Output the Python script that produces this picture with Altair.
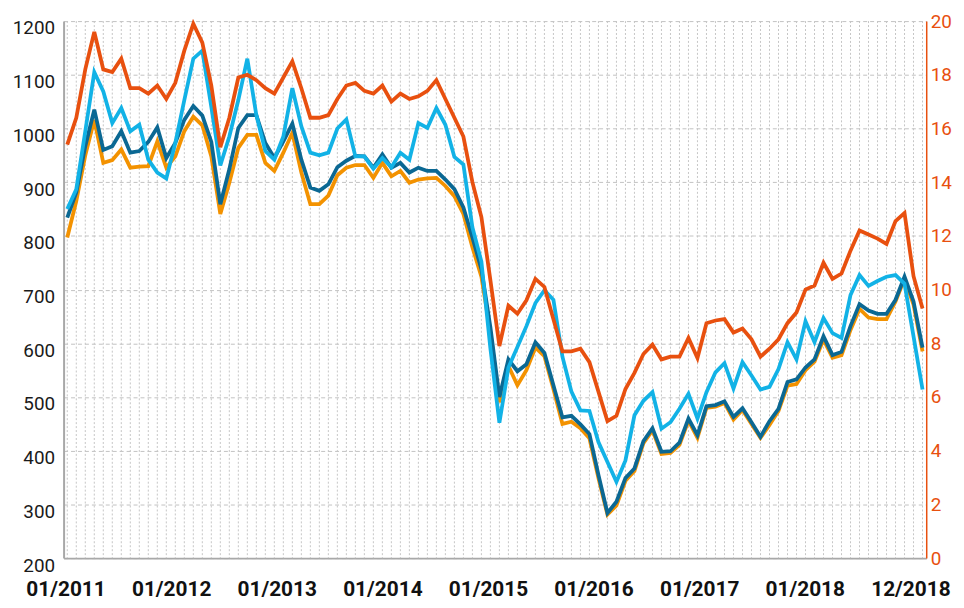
import altair as alt
import pandas as pd

# ---------------- data ----------------
years = list(range(2011, 2019))
months = [f"{m:02d}/{y}" for y in years for m in range(1, 13)]
tick_labels = ["01/2011", "01/2012", "01/2013", "01/2014", "01/2015",
               "01/2016", "01/2017", "01/2018", "12/2018"]

# left axis series
orange = [797, 865, 950, 1016, 936, 941, 961, 927, 929, 930, 976, 927,
          948, 995, 1022, 1006, 948, 841, 899, 964, 988, 988, 936, 921,
          955, 992, 918, 859, 859, 875, 913, 927, 932, 932, 908, 936,
          911, 921, 899, 905, 907, 908, 893, 874, 841, 779, 724, 620,
          490, 558, 522, 550, 592, 576, 515, 450, 454, 442, 423, 349,
          281, 298, 344, 362, 414, 438, 394, 396, 411, 456, 424, 480,
          482, 489, 458, 476, 450, 424, 448, 474, 521, 524, 550, 566,
          607, 573, 578, 625, 664, 648, 645, 645, 678, 720, 672, 585]

dark_blue = [834, 881, 967, 1035, 960, 967, 995, 955, 958, 975, 1002, 945,
             973, 1016, 1042, 1024, 975, 859, 924, 1001, 1025, 1025, 973, 945,
             976, 1009, 942, 890, 884, 896, 928, 940, 949, 948, 927, 952,
             927, 936, 918, 927, 921, 921, 905, 887, 853, 797, 738, 630,
             500, 570, 548, 561, 602, 582, 522, 462, 465, 449, 431, 355,
             284, 305, 349, 367, 418, 442, 398, 399, 415, 460, 429, 483,
             485, 492, 463, 479, 453, 426, 455, 478, 528, 533, 555, 570,
             613, 578, 584, 632, 673, 661, 655, 655, 681, 724, 678, 592]

light_blue = [850, 887, 995, 1105, 1069, 1010, 1038, 995, 1007, 942, 918, 907,
              973, 1053, 1130, 1145, 1040, 931, 985, 1053, 1130, 1025, 958, 942,
              985, 1075, 1004, 955, 950, 955, 1000, 1017, 948, 948, 925, 945,
              928, 955, 942, 1010, 1001, 1038, 1007, 947, 933, 816, 752, 590,
              452, 555, 593, 632, 675, 699, 681, 575, 510, 475, 474, 416,
              379, 342, 382, 466, 493, 509, 441, 453, 478, 506, 460, 509,
              546, 563, 516, 565, 540, 514, 519, 552, 602, 570, 641, 602,
              647, 619, 610, 690, 727, 707, 716, 724, 727, 711, 613, 514]

# right axis series
red = [15.4, 16.4, 18.2, 19.6, 18.2, 18.1, 18.6, 17.5, 17.5, 17.3, 17.6, 17.1,
       17.7, 18.9, 19.9, 19.2, 17.6, 15.3, 16.4, 17.9, 18.0, 17.8, 17.5, 17.3,
       17.9, 18.5, 17.5, 16.4, 16.4, 16.5, 17.1, 17.6, 17.7, 17.4, 17.3, 17.6,
       17.0, 17.3, 17.1, 17.2, 17.4, 17.8, 17.1, 16.4, 15.7, 14.0, 12.7, 10.35,
       7.9, 9.4, 9.1, 9.6, 10.4, 10.1, 8.9, 7.7, 7.7, 7.8, 7.3, 6.2,
       5.1, 5.3, 6.3, 6.9, 7.6, 7.95, 7.4, 7.5, 7.5, 8.2, 7.45, 8.75,
       8.85, 8.9, 8.4, 8.55, 8.15, 7.5, 7.8, 8.15, 8.75, 9.15, 10.0, 10.15,
       11.0, 10.4, 10.6, 11.45, 12.2, 12.05, 11.9, 11.7, 12.55, 12.85, 10.5, 9.3]

left_ticks = list(range(200, 1201, 100))
right_ticks = list(range(0, 21, 2))

# ---------------- styling ----------------
C_ORANGE = "#F39200"
C_DARK = "#0B6893"
C_LIGHT = "#12B2E6"
C_RED = "#E8500F"
AXIS_GREY = "#a8a8a8"
LW = 3.8

df = pd.DataFrame({
    "idx": list(range(len(months))),
    "month": months,
    "orange": orange,
    "dark_blue": dark_blue,
    "light_blue": light_blue,
    "red": red,
})

x_enc = alt.X("idx:Q", scale=alt.Scale(domain=[-0.41, len(months) - 0.59], nice=False, zero=False), axis=None)

y_left_scale = alt.Scale(domain=[200, 1200], nice=False, zero=False)
left_axis = alt.Axis(orient="left", values=left_ticks, format="d", title=None, grid=True,
                     gridColor="#c2c2c2", gridDash=[4, 3], gridWidth=1,
                     domainColor=AXIS_GREY, domainWidth=2, ticks=False,
                     labelFont="Roboto", labelFontSize=19, labelColor="#1a1a1a",
                     labelPadding=9, labelOffset=7)

base = alt.Chart(df)

vgrid = base.mark_rule(color="#c6c6c6", strokeDash=[2, 2], strokeWidth=1).encode(x=x_enc)


def left_line(col, color):
    return base.mark_line(color=color, strokeWidth=LW, strokeJoin="miter").encode(
        x=x_enc,
        y=alt.Y(f"{col}:Q", scale=y_left_scale, axis=left_axis),
    )


left_part = alt.layer(
    vgrid,
    left_line("orange", C_ORANGE),
    left_line("dark_blue", C_DARK),
    left_line("light_blue", C_LIGHT),
)

red_part = base.mark_line(color=C_RED, strokeWidth=LW, strokeJoin="miter").encode(
    x=x_enc,
    y=alt.Y("red:Q", scale=alt.Scale(domain=[0, 20], nice=False, zero=False),
            axis=alt.Axis(orient="right", values=right_ticks, format="d", title=None, grid=False,
                          domainColor=C_RED, domainWidth=1.5, ticks=False,
                          labelFont="Roboto", labelFontSize=19, labelColor=C_RED,
                          labelPadding=4)),
)

label_part = alt.Chart(pd.DataFrame({"lab": tick_labels})).mark_point(opacity=0).encode(
    x=alt.X("lab:N", sort=tick_labels,
            scale=alt.Scale(type="point", padding=0.084, align=0.11),
            axis=alt.Axis(orient="bottom", title=None, labelAngle=0, ticks=False, tickSize=0,
                          domainColor=AXIS_GREY, domainWidth=2,
                          labelFont="Roboto", labelFontWeight="bold", labelFontSize=21,
                          labelColor="#111111", labelPadding=21, labelOverlap=False,
                          labelFlush=False, labelBound=False, grid=False)),
)

chart = alt.layer(left_part, red_part, label_part).resolve_scale(
    x="independent", y="independent"
).properties(
    width=869, height=541,
    padding={"left": 56, "top": 11, "right": 30, "bottom": 40},
    autosize=alt.AutoSizeParams(type="none"),
    background="white",
).configure_view(stroke=None)

chart.save("out.html", embed_options={"renderer": "svg", "actions": False})
